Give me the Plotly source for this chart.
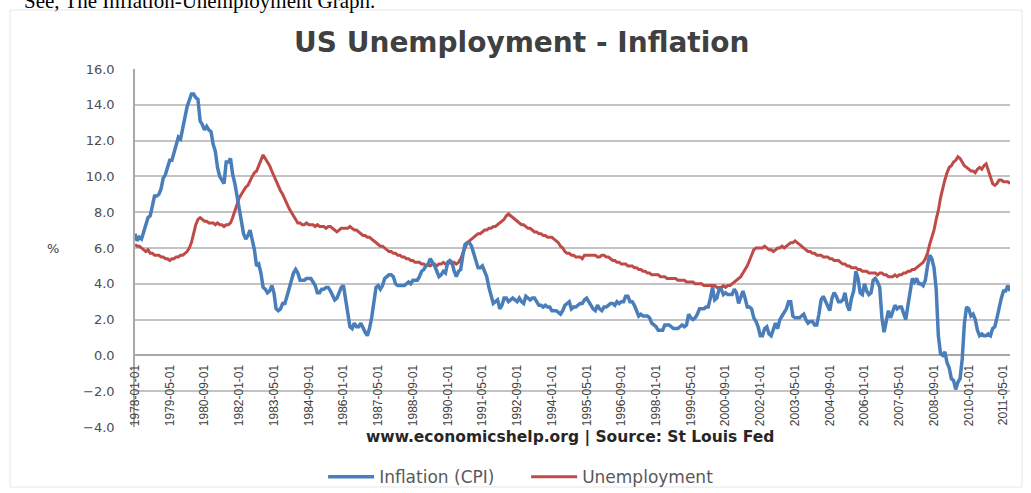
import pandas as pd
import plotly.graph_objects as go

# Monthly values, 1978-01 .. 2011-08 (one row per year)
inflation = [
    6.8, 6.4, 6.6, 6.5, 6.9, 7.4, 7.7, 7.8, 8.3, 8.9, 8.9, 9.0,
    9.3, 9.9, 10.1, 10.5, 10.9, 10.9, 11.3, 11.8, 12.2, 12.1, 12.6, 13.3,
    13.9, 14.2, 14.6, 14.6, 14.4, 14.3, 13.1, 12.9, 12.6, 12.8, 12.6, 12.5,
    11.8, 11.4, 10.5, 10.0, 9.8, 9.6, 10.8, 10.8, 11.0, 10.1, 9.6, 8.9,
    8.4, 7.6, 6.8, 6.5, 6.7, 7.0, 6.4, 5.9, 5.0, 5.1, 4.6, 3.8,
    3.7, 3.5, 3.6, 3.9, 3.5, 2.6, 2.5, 2.6, 2.9, 2.9, 3.3, 3.8,
    4.2, 4.6, 4.8, 4.6, 4.2, 4.2, 4.2, 4.3, 4.3, 4.3, 4.1, 3.9,
    3.5, 3.5, 3.7, 3.7, 3.8, 3.8, 3.6, 3.3, 3.1, 3.2, 3.5, 3.8,
    3.9, 3.1, 2.2, 1.6, 1.5, 1.8, 1.6, 1.6, 1.8, 1.5, 1.3, 1.1,
    1.5, 2.1, 3.0, 3.8, 3.9, 3.7, 3.9, 4.3, 4.4, 4.5, 4.5, 4.4,
    4.0, 3.9, 3.9, 3.9, 3.9, 4.0, 4.1, 4.0, 4.2, 4.2, 4.2, 4.4,
    4.7, 4.8, 5.0, 5.1, 5.4, 5.2, 5.0, 4.7, 4.4, 4.5, 4.7, 4.6,
    5.2, 5.3, 5.2, 4.7, 4.4, 4.7, 4.8, 5.6, 6.2, 6.3, 6.3, 6.1,
    5.7, 5.3, 4.9, 4.9, 5.0, 4.7, 4.4, 3.8, 3.4, 2.9, 3.0, 3.1,
    2.6, 2.8, 3.2, 3.2, 3.0, 3.1, 3.2, 3.1, 3.0, 3.2, 3.0, 2.9,
    3.3, 3.2, 3.1, 3.2, 3.2, 3.0, 2.8, 2.8, 2.7, 2.8, 2.7, 2.7,
    2.5, 2.5, 2.5, 2.4, 2.3, 2.5, 2.8, 2.9, 3.0, 2.6, 2.7, 2.7,
    2.8, 2.9, 2.9, 3.1, 3.2, 3.0, 2.8, 2.6, 2.5, 2.8, 2.6, 2.5,
    2.7, 2.7, 2.8, 2.9, 2.9, 2.8, 3.0, 2.9, 3.0, 3.0, 3.3, 3.3,
    3.0, 3.0, 2.8, 2.5, 2.2, 2.3, 2.2, 2.2, 2.2, 2.1, 1.8, 1.7,
    1.6, 1.4, 1.4, 1.4, 1.7, 1.7, 1.7, 1.6, 1.5, 1.5, 1.5, 1.6,
    1.7, 1.6, 1.7, 2.3, 2.1, 2.0, 2.1, 2.3, 2.6, 2.6, 2.6, 2.7,
    2.7, 3.2, 3.8, 3.1, 3.2, 3.7, 3.7, 3.4, 3.5, 3.4, 3.4, 3.4,
    3.7, 3.5, 2.9, 3.3, 3.6, 3.2, 2.7, 2.7, 2.6, 2.1, 1.9, 1.6,
    1.1, 1.1, 1.5, 1.6, 1.2, 1.1, 1.5, 1.8, 1.5, 2.0, 2.2, 2.4,
    2.6, 3.0, 3.0, 2.2, 2.1, 2.1, 2.1, 2.2, 2.3, 2.0, 1.8, 1.9,
    1.9, 1.7, 1.7, 2.3, 3.1, 3.3, 3.0, 2.7, 2.5, 3.2, 3.5, 3.3,
    3.0, 3.0, 3.1, 3.5, 2.8, 2.5, 3.2, 3.6, 4.7, 4.3, 3.5, 3.4,
    4.0, 3.6, 3.4, 3.5, 4.2, 4.3, 4.1, 3.8, 2.1, 1.3, 2.0, 2.5,
    2.1, 2.4, 2.8, 2.6, 2.7, 2.7, 2.4, 2.0, 2.8, 3.5, 4.3, 4.1,
    4.3, 4.0, 4.0, 3.9, 4.2, 5.0, 5.6, 5.4, 4.9, 3.7, 1.1, 0.1,
    0.0, 0.2, -0.4, -0.7, -1.3, -1.4, -1.9, -1.5, -1.3, -0.2, 1.8, 2.7,
    2.6, 2.2, 2.3, 2.0, 1.4, 1.1, 1.2, 1.1, 1.1, 1.2, 1.1, 1.5,
    1.6, 2.1, 2.7, 3.2, 3.6, 3.6, 3.9, 3.6,
]

unemployment = [
    6.2, 6.1, 6.1, 6.0, 5.9, 5.8, 5.9, 5.7, 5.7, 5.6, 5.6, 5.6,
    5.5, 5.5, 5.4, 5.4, 5.3, 5.4, 5.4, 5.5, 5.5, 5.6, 5.6, 5.7,
    5.8, 6.0, 6.3, 6.8, 7.3, 7.6, 7.7, 7.6, 7.5, 7.5, 7.4, 7.4,
    7.4, 7.3, 7.4, 7.3, 7.3, 7.2, 7.3, 7.3, 7.4, 7.7, 8.1, 8.4,
    8.8, 9.0, 9.2, 9.4, 9.5, 9.8, 10.0, 10.2, 10.3, 10.6, 10.9, 11.2,
    11.0, 10.8, 10.6, 10.3, 10.0, 9.8, 9.5, 9.2, 9.0, 8.7, 8.4, 8.2,
    8.0, 7.8, 7.6, 7.4, 7.4, 7.3, 7.3, 7.4, 7.3, 7.3, 7.3, 7.2,
    7.3, 7.2, 7.2, 7.2, 7.1, 7.2, 7.2, 7.1, 7.0, 6.9, 7.0, 7.1,
    7.1, 7.1, 7.1, 7.2, 7.1, 7.0, 7.0, 6.9, 6.8, 6.7, 6.7, 6.6,
    6.6, 6.5, 6.4, 6.3, 6.2, 6.1, 6.1, 6.0, 5.9, 5.8, 5.8, 5.7,
    5.7, 5.6, 5.6, 5.5, 5.5, 5.4, 5.4, 5.3, 5.3, 5.2, 5.2, 5.2,
    5.1, 5.1, 5.0, 5.1, 5.0, 5.1, 5.1, 5.0, 5.1, 5.1, 5.2, 5.1,
    5.1, 5.2, 5.1, 5.2, 5.1, 5.2, 5.4, 5.7, 6.0, 6.3, 6.4, 6.5,
    6.6, 6.7, 6.8, 6.8, 6.9, 7.0, 7.0, 7.1, 7.1, 7.2, 7.2, 7.3,
    7.4, 7.5, 7.6, 7.8, 7.9, 7.8, 7.7, 7.6, 7.5, 7.4, 7.3, 7.3,
    7.2, 7.1, 7.1, 7.0, 6.9, 6.9, 6.8, 6.8, 6.7, 6.7, 6.6, 6.6,
    6.6, 6.5, 6.4, 6.3, 6.1, 6.0, 5.8, 5.7, 5.7, 5.6, 5.6, 5.5,
    5.5, 5.5, 5.4, 5.6, 5.6, 5.6, 5.6, 5.6, 5.6, 5.5, 5.5, 5.6,
    5.6, 5.5, 5.5, 5.4, 5.3, 5.3, 5.2, 5.2, 5.1, 5.1, 5.1, 5.0,
    5.0, 5.0, 4.9, 4.9, 4.8, 4.8, 4.7, 4.7, 4.6, 4.6, 4.5, 4.5,
    4.5, 4.5, 4.4, 4.4, 4.4, 4.3, 4.3, 4.3, 4.3, 4.3, 4.2, 4.2,
    4.2, 4.2, 4.1, 4.1, 4.1, 4.1, 4.0, 4.0, 4.0, 4.0, 3.9, 3.9,
    3.9, 3.9, 3.9, 3.9, 3.8, 3.8, 3.8, 3.9, 3.8, 3.9, 3.9, 4.0,
    4.1, 4.2, 4.3, 4.4, 4.6, 4.8, 5.0, 5.3, 5.6, 5.9, 6.0, 6.0,
    6.0, 6.0, 6.1, 6.0, 5.9, 5.9, 5.8, 5.9, 6.0, 6.0, 6.1, 6.0,
    6.1, 6.2, 6.3, 6.3, 6.4, 6.3, 6.2, 6.1, 6.0, 5.9, 5.8, 5.8,
    5.7, 5.7, 5.6, 5.6, 5.6, 5.5, 5.5, 5.5, 5.4, 5.4, 5.3, 5.3,
    5.3, 5.2, 5.1, 5.1, 5.0, 5.0, 4.9, 4.9, 4.9, 4.8, 4.8, 4.7,
    4.7, 4.7, 4.6, 4.6, 4.6, 4.6, 4.5, 4.6, 4.6, 4.5, 4.5, 4.4,
    4.4, 4.4, 4.5, 4.4, 4.5, 4.5, 4.6, 4.6, 4.7, 4.7, 4.8, 4.8,
    4.9, 5.0, 5.1, 5.2, 5.4, 5.7, 6.2, 6.6, 7.0, 7.6, 8.1, 8.8,
    9.4, 9.8, 10.2, 10.5, 10.6, 10.8, 10.9, 11.1, 11.0, 10.8, 10.6, 10.5,
    10.4, 10.3, 10.3, 10.2, 10.4, 10.5, 10.4, 10.6, 10.7, 10.3, 9.9, 9.6,
    9.5, 9.6, 9.8, 9.8, 9.7, 9.7, 9.7, 9.6,
]

tick_labels = [
    "1978-01-01", "1979-05-01", "1980-09-01", "1982-01-01", "1983-05-01",
    "1984-09-01", "1986-01-01", "1987-05-01", "1988-09-01", "1990-01-01",
    "1991-05-01", "1992-09-01", "1994-01-01", "1995-05-01", "1996-09-01",
    "1998-01-01", "1999-05-01", "2000-09-01", "2002-01-01", "2003-05-01",
    "2004-09-01", "2006-01-01", "2007-05-01", "2008-09-01", "2010-01-01",
    "2011-05-01",
]

months = pd.date_range("1978-01-01", periods=len(inflation), freq="MS").strftime("%Y-%m-%d").tolist()

BLUE = "#4A7EBB"
RED = "#BE4B48"
GRID = "#C3C3C3"

fig = go.Figure()
fig.add_trace(go.Scatter(x=months, y=unemployment, mode="lines", name="Unemployment",
                         line=dict(color=RED, width=3), legendrank=2))
fig.add_trace(go.Scatter(x=months, y=inflation, mode="lines", name="Inflation (CPI)",
                         line=dict(color=BLUE, width=3.5), legendrank=1))

ymin, ymax = -4, 16
fig.update_layout(
    width=1031, height=493,
    margin=dict(l=135, r=21, t=69, b=66, autoexpand=False),
    paper_bgcolor="white", plot_bgcolor="white",
    showlegend=True,
    legend=dict(orientation="h", x=0.447, xanchor="center", y=-0.14, yanchor="middle",
                font=dict(family="DejaVu Sans", size=17, color="#595959"),
                itemwidth=46, entrywidth=142, bgcolor="rgba(0,0,0,0)"),
    title=dict(text="<b>US Unemployment - Inflation</b>", xref="paper", x=0.442, xanchor="center",
               yref="container", y=0.915, yanchor="middle",
               font=dict(family="DejaVu Sans", size=28, color="#404040")),
    xaxis=dict(type="category", range=[0, len(months) - 1], anchor="free",
               position=(0 - ymin) / (ymax - ymin), automargin=False,
               tickmode="array", tickvals=tick_labels, ticktext=tick_labels,
               tickangle=-90, ticks="", ticklabelstandoff=6,
               tickfont=dict(family="Liberation Sans Narrow, Liberation Sans, sans-serif", size=12, color="#404040"),
               showgrid=False, showline=False, zeroline=False),
    yaxis=dict(range=[ymin, ymax], dtick=2, tick0=0, tickformat=".1f", automargin=False,
               showgrid=True, gridcolor=GRID, gridwidth=1.5,
               zeroline=True, zerolinecolor="#A8A8A8", zerolinewidth=1.5,
               showline=True, linecolor="#A8A8A8", linewidth=1.5,
               ticks="", ticklabelstandoff=16,
               tickfont=dict(family="DejaVu Sans", size=13, color="#4D4D4D")),
)

fig.add_annotation(text="%", xref="paper", yref="paper", x=-0.094, y=0.5, xanchor="center",
                   yanchor="middle", showarrow=False,
                   font=dict(family="DejaVu Sans", size=13, color="#404040"))
fig.add_annotation(text="<b>www.economicshelp.org | Source: St Louis Fed</b>", xref="paper", yref="paper",
                   x=0.497, y=-0.028, xanchor="center", yanchor="middle", showarrow=False,
                   font=dict(family="DejaVu Sans", size=15.5, color="#262626"))
fig.add_annotation(text="See, The Inflation-Unemployment Graph.", xref="paper", yref="paper",
                   x=(22 - 135) / 875, xanchor="left", y=(427 - 1) / 358, yanchor="middle", showarrow=False,
                   font=dict(family="Liberation Serif", size=21, color="#000000"))
fig.add_shape(type="rect", xref="paper", yref="paper",
              x0=(10 - 135) / 875, x1=(1022 - 135) / 875, y0=(427 - 487) / 358, y1=(427 - 10) / 358,
              line=dict(color="#E6E6E6", width=1), fillcolor="rgba(0,0,0,0)", layer="below")

fig.write_html("out.html", config={"displayModeBar": False},
               post_script="document.body.style.margin='0';")
